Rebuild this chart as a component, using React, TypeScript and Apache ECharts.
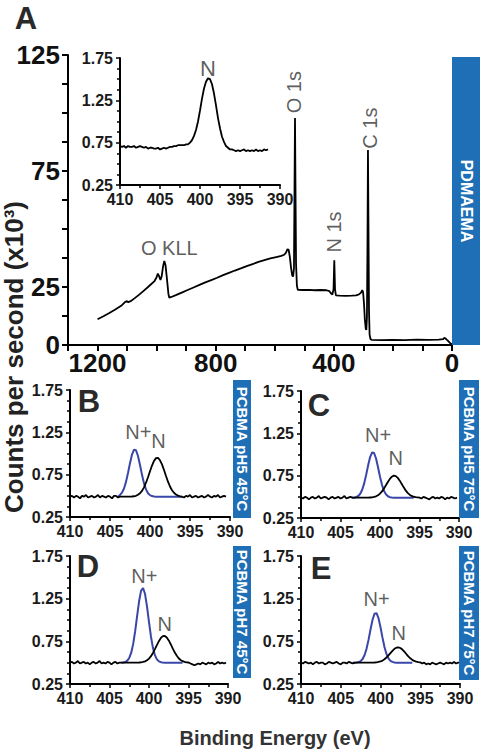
import React, { useEffect, useRef } from "react";
import * as echarts from "echarts";

const SANS = "'Liberation Sans', Arial, Helvetica, sans-serif";
const NARROW = "'Liberation Sans Narrow', 'Arial Narrow', 'Liberation Sans', Arial, sans-serif";

// ---------------- DATA ----------------
// Panel A survey spectrum: [binding energy (eV), counts (x10^3)]
const surveySpectrum: [number, number][] = [
  [1200, 11.1], [1180, 12.4], [1160, 13.8], [1140, 15.3], [1120, 16.9], [1108, 18.4],
  [1102, 18.9], [1096, 18.5], [1088, 18.9], [1075, 20.1], [1060, 21.6], [1045, 23.2],
  [1030, 24.9], [1018, 26.3], [1008, 27.4], [1000, 29.2], [996, 30.8], [992, 29.8],
  [987, 28.0], [983, 29.5], [978, 34.0], [974, 36.2], [970, 34.5], [965, 28.5],
  [960, 22.0], [957, 20.4], [950, 20.7], [935, 21.5], [915, 22.6], [895, 23.7],
  [875, 24.8], [855, 25.9], [835, 27.0], [815, 28.0], [795, 29.0], [775, 30.1],
  [755, 31.1], [735, 32.1], [715, 33.0], [695, 34.0], [675, 34.9], [655, 35.8],
  [635, 36.6], [615, 37.3], [595, 37.9], [578, 38.4], [568, 38.9], [562, 39.8],
  [557, 41.3], [553, 41.0], [549, 38.0], [545, 33.5], [541, 30.0], [538, 29.5],
  [535, 33.0], [533, 70], [531.5, 97.8], [530, 70], [528, 35], [525, 25.5],
  [522, 23.8], [505, 23.7], [485, 23.8], [465, 23.6], [445, 23.7], [425, 23.6],
  [415, 23.2], [410, 22.3], [405, 21.8], [401, 24.0], [398.5, 36.5], [396, 24],
  [393, 21.4], [380, 21.3], [360, 21.2], [340, 21.3], [325, 21.4], [315, 21.8],
  [308, 22.6], [304, 23.6], [301, 22.8], [298, 18], [295, 11], [292, 7.0],
  [290, 6.5], [288, 12], [286, 45], [284.5, 84], [283, 55], [281, 15],
  [279, 4.5], [276, 2.6], [272, 2.2], [240, 2.1], [200, 2.2], [160, 2.1],
  [120, 2.3], [80, 2.2], [45, 2.3], [30, 2.5], [26, 3.1], [22, 2.8],
  [18, 2.3], [12, 1.6], [6, 0.8], [0, 0.3],
];
const surveyXLabels = [1200, 800, 400, 0];
const surveyYLabels = [0, 25, 75, 125];

// High-resolution N 1s spectra, sampled every 0.25 eV from a start energy
const EV_STEP = 0.25;

const insetStart = 410;
const insetCounts = [
  0.71, 0.70, 0.71, 0.69,
  0.71, 0.70, 0.70, 0.71,
  0.69, 0.70, 0.71, 0.70,
  0.69, 0.70, 0.68, 0.69,
  0.69, 0.68, 0.68, 0.69,
  0.67, 0.68, 0.69, 0.68,
  0.69, 0.70, 0.70, 0.71,
  0.71, 0.72, 0.72, 0.72,
  0.72, 0.73, 0.73, 0.75,
  0.78, 0.83, 0.90, 1.00,
  1.13, 1.27, 1.39, 1.47,
  1.51, 1.50, 1.44, 1.33,
  1.19, 1.04, 0.92, 0.82,
  0.76, 0.71, 0.69, 0.67,
  0.67, 0.66, 0.65, 0.66,
  0.65, 0.66, 0.67, 0.65,
  0.66, 0.65, 0.66, 0.65,
  0.67, 0.65, 0.66, 0.65,
  0.67, 0.66, 0.67,
];

const bNStart = 410;
const bN = [
  0.49, 0.50, 0.48, 0.50,
  0.49, 0.47, 0.50, 0.49,
  0.51, 0.48, 0.49, 0.50,
  0.48, 0.49, 0.51, 0.48,
  0.50, 0.49, 0.48, 0.50,
  0.49, 0.47, 0.50, 0.50,
  0.48, 0.49, 0.49, 0.49,
  0.49, 0.49, 0.49, 0.492,
  0.495, 0.50, 0.513, 0.531,
  0.559, 0.60, 0.655, 0.72,
  0.79, 0.858, 0.913, 0.945,
  0.948, 0.92, 0.871, 0.805,
  0.734, 0.667, 0.61, 0.566,
  0.536, 0.515, 0.503, 0.495,
  0.49, 0.48, 0.50, 0.49,
  0.51, 0.48, 0.49, 0.50,
  0.48, 0.49, 0.50, 0.48,
  0.49, 0.51, 0.49, 0.48,
  0.50, 0.49, 0.51, 0.48,
  0.49, 0.50, 0.49,
];
const bNplusStart = 404;
const bNplus = [
  0.49, 0.511, 0.538, 0.587,
  0.665, 0.77, 0.886, 0.988,
  1.045, 1.038, 0.97, 0.864,
  0.748, 0.647, 0.576, 0.531,
  0.508, 0.497, 0.492, 0.49,
  0.49, 0.49, 0.49, 0.49,
  0.49, 0.49, 0.49, 0.49,
  0.49, 0.49, 0.49, 0.49,
  0.49,
];

const cNStart = 410;
const cN = [
  0.49, 0.48, 0.50, 0.49,
  0.47, 0.49, 0.50, 0.48,
  0.49, 0.51, 0.48, 0.49,
  0.50, 0.49, 0.47, 0.49,
  0.50, 0.48, 0.49, 0.50,
  0.48, 0.49, 0.51, 0.48,
  0.49, 0.50, 0.49, 0.49,
  0.49, 0.49, 0.49, 0.49,
  0.49, 0.49, 0.49, 0.492,
  0.494, 0.499, 0.506, 0.519,
  0.538, 0.564, 0.597, 0.636,
  0.676, 0.712, 0.738, 0.75,
  0.745, 0.724, 0.691, 0.652,
  0.612, 0.576, 0.547, 0.525,
  0.511, 0.501, 0.496, 0.493,
  0.49, 0.48, 0.50, 0.49,
  0.48, 0.47, 0.49, 0.50,
  0.48, 0.49, 0.48, 0.50,
  0.49, 0.47, 0.49, 0.48,
  0.50, 0.49, 0.48, 0.49,
];
const cNplusStart = 403.5;
const cNplus = [
  0.49, 0.49,
  0.498, 0.51, 0.536, 0.584,
  0.659, 0.76, 0.872, 0.97,
  1.025, 1.018, 0.953, 0.85,
  0.738, 0.642, 0.573, 0.53,
  0.507, 0.496, 0.492, 0.49,
  0.49, 0.49, 0.49, 0.49,
  0.49, 0.49, 0.49, 0.49,
  0.49, 0.49,
];

const dNStart = 410;
const dN = [
  0.50, 0.51, 0.49, 0.50,
  0.52, 0.49, 0.50, 0.51,
  0.49, 0.50, 0.48, 0.50,
  0.51, 0.49, 0.50, 0.52,
  0.49, 0.50, 0.49, 0.51,
  0.50, 0.48, 0.50, 0.51,
  0.49, 0.50, 0.50, 0.50,
  0.50, 0.50, 0.50, 0.50,
  0.50, 0.50, 0.501, 0.502,
  0.504, 0.508, 0.515, 0.528,
  0.548, 0.576, 0.613, 0.658,
  0.706, 0.752, 0.79, 0.811,
  0.813, 0.795, 0.761, 0.716,
  0.667, 0.621, 0.583, 0.552,
  0.531, 0.517, 0.509, 0.504,
  0.502, 0.49, 0.48, 0.47,
  0.48, 0.49, 0.48, 0.50,
  0.49, 0.48, 0.50, 0.49,
  0.50, 0.48, 0.49, 0.51,
  0.49, 0.50, 0.49, 0.50,
];
const dNplusStart = 403.5;
const dNplus = [
  0.50, 0.503,
  0.508, 0.523, 0.555, 0.617,
  0.72, 0.869, 1.048, 1.222,
  1.344, 1.375, 1.304, 1.156,
  0.974, 0.804, 0.674, 0.588,
  0.539, 0.516, 0.506, 0.502,
  0.50, 0.50, 0.50, 0.50,
  0.50, 0.50, 0.50, 0.50,
  0.50, 0.50,
];

const eNStart = 410;
const eN = [
  0.50, 0.49, 0.51, 0.50,
  0.49, 0.50, 0.48, 0.50,
  0.51, 0.49, 0.50, 0.50,
  0.48, 0.49, 0.51, 0.50,
  0.49, 0.50, 0.51, 0.49,
  0.48, 0.50, 0.50, 0.49,
  0.51, 0.50, 0.49, 0.50,
  0.50, 0.50, 0.50, 0.50,
  0.50, 0.50, 0.50, 0.50,
  0.501, 0.502, 0.504, 0.508,
  0.514, 0.524, 0.54, 0.56,
  0.585, 0.612, 0.639, 0.662,
  0.676, 0.68, 0.672, 0.654,
  0.629, 0.601, 0.574, 0.551,
  0.533, 0.52, 0.511, 0.506,
  0.503, 0.49, 0.50, 0.48,
  0.49, 0.48, 0.50, 0.49,
  0.48, 0.49, 0.50, 0.49,
  0.48, 0.50, 0.49, 0.50,
  0.49, 0.51, 0.49, 0.50,
  0.50,
];
const eNplusStart = 403.5;
const eNplus = [
  0.50, 0.50,
  0.502, 0.507, 0.518, 0.543,
  0.59, 0.665, 0.77, 0.891,
  1.003, 1.074, 1.08, 1.021,
  0.915, 0.793, 0.683, 0.602,
  0.55, 0.522, 0.509, 0.503,
  0.50, 0.50, 0.50, 0.50,
  0.50, 0.50, 0.50, 0.50,
  0.50,
];

const panelSamples = ["PCBMA pH5 45°C", "PCBMA pH5 75°C", "PCBMA pH7 45°C", "PCBMA pH7 75°C"];
const surveySample = "PDMAEMA";

// ---------------- LAYOUT / STYLE ----------------
const BLUE_LINE = "#3a46a8";
const BOX_BLUE = "#1f6fb6";
const TEXT_DARK = "#2a2a2a";

const grids = [
  { left: 68, top: 55, width: 384, height: 290 }, // A
  { left: 120, top: 58, width: 160, height: 127 }, // inset
  { left: 70, top: 390, width: 160, height: 127 }, // B
  { left: 301, top: 391, width: 158, height: 127 }, // C
  { left: 70, top: 556, width: 158, height: 128 }, // D
  { left: 301, top: 556, width: 159, height: 128 }, // E
];

// annotation anchors in data coordinates
const surveyAnnotations = [
  { text: "O KLL", x: 957, y: 41.8, rot: 0 },
  { text: "O 1s", x: 536, y: 109, rot: 90 },
  { text: "N 1s", x: 398, y: 48.7, rot: 90 },
  { text: "C 1s", x: 279, y: 93.5, rot: 90 },
];
const insetAnnotations = [{ text: "N", x: 399, y: 1.63, rot: 0 }];
const panelAnnotations = [
  [{ text: "N+", x: 401.45, y: 1.25, rot: 0 }, { text: "N", x: 398.95, y: 1.15, rot: 0 }],
  [{ text: "N+", x: 400.25, y: 1.23, rot: 0 }, { text: "N", x: 398.0, y: 0.96, rot: 0 }],
  [{ text: "N+", x: 400.6, y: 1.52, rot: 0 }, { text: "N", x: 398.0, y: 0.95, rot: 0 }],
  [{ text: "N+", x: 400.5, y: 1.25, rot: 0 }, { text: "N", x: 397.7, y: 0.85, rot: 0 }],
];

function onGrid(start: number, ys: number[]): [number, number][] {
  return ys.map((y, i) => [+(start - i * EV_STEP).toFixed(2), y]);
}

const axisLine = (w: number) => ({ show: true, onZero: false, lineStyle: { color: "#000", width: w } });

function smallX(gi: number, fontSize = 16) {
  return {
    type: "value", gridIndex: gi, min: 390, max: 410, interval: 5, inverse: true,
    axisLine: axisLine(2),
    axisTick: { show: true, length: 4, lineStyle: { color: "#000", width: 1.5 } },
    minorTick: { show: true, splitNumber: 2, length: 3, lineStyle: { color: "#000", width: 1.5 } },
    axisLabel: { show: true, margin: 6, fontFamily: NARROW, fontWeight: "bold", fontSize, color: "#1a1a1a", showMinLabel: true, showMaxLabel: true },
    splitLine: { show: false }, minorSplitLine: { show: false },
  };
}
function smallY(gi: number, fontSize = 16) {
  return {
    type: "value", gridIndex: gi, min: 0.25, max: 1.75, interval: 0.5,
    axisLine: axisLine(2),
    axisTick: { show: true, length: 4, lineStyle: { color: "#000", width: 1.5 } },
    minorTick: { show: true, splitNumber: 4, length: 3, lineStyle: { color: "#000", width: 1.5 } },
    axisLabel: { show: true, margin: 7, fontFamily: NARROW, fontWeight: "bold", fontSize, color: "#1a1a1a", formatter: (v: number) => v.toFixed(2), showMinLabel: true, showMaxLabel: true },
    splitLine: { show: false }, minorSplitLine: { show: false },
  };
}

function lineSeries(gi: number, data: [number, number][], color: string, width: number) {
  return {
    type: "line", xAxisIndex: gi, yAxisIndex: gi, data, showSymbol: false, symbol: "none",
    lineStyle: { color, width }, silent: true, z: 3,
  };
}

function labelSeries(gi: number, items: { text: string; x: number; y: number; rot: number }[], fontSize: number, family: string) {
  return {
    type: "scatter", xAxisIndex: gi, yAxisIndex: gi, symbolSize: 1, silent: true, z: 5,
    itemStyle: { color: "rgba(0,0,0,0)" },
    data: items.map((it) => ({
      value: [it.x, it.y],
      label: { show: true, position: "inside", formatter: it.text, rotate: it.rot, fontSize, fontFamily: family, color: "#333" },
    })),
  };
}

function boxGraphic(x: number, y: number, w: number, h: number, text: string, size: number) {
  return [
    { type: "rect", shape: { x, y, width: w, height: h }, style: { fill: BOX_BLUE }, z: 10 },
    {
      type: "text", x: x + w / 2, y: y + h / 2, rotation: -Math.PI / 2, z: 11,
      style: { text, fill: "#fff", fontSize: size, fontWeight: "bold", fontFamily: SANS, align: "center", verticalAlign: "middle", textAlign: "center", textVerticalAlign: "middle" },
    },
  ];
}

function textGraphic(x: number, y: number, text: string, size: number, weight: string, color: string, rotation = 0) {
  return {
    type: "text", x, y, rotation, z: 12,
    style: { text, fill: color, fontSize: size, fontWeight: weight, fontFamily: SANS, align: "center", verticalAlign: "middle", textAlign: "center", textVerticalAlign: "middle" },
  };
}

export default function App() {
  const ref = useRef<HTMLDivElement>(null);

  useEffect(() => {
    if (!ref.current) return;
    const chart = echarts.init(ref.current, undefined, { renderer: "svg" });

    const option: any = {
      animation: false,
      backgroundColor: "#fff",
      grid: grids.map((g) => ({ ...g, containLabel: false })),
      xAxis: [
        {
          type: "value", gridIndex: 0, min: 0, max: 1300, interval: 100, inverse: true,
          axisLine: axisLine(2),
          axisTick: { show: true, length: 6, lineStyle: { color: "#000", width: 2 } },
          axisLabel: {
            show: true, margin: 5, fontFamily: SANS, fontWeight: "bold", fontSize: 26, color: "#111",
            formatter: (v: number) => (surveyXLabels.includes(v) ? String(v) : ""), showMinLabel: true, showMaxLabel: true,
          },
          splitLine: { show: false },
        },
        smallX(1), smallX(2), smallX(3), smallX(4), smallX(5),
      ],
      yAxis: [
        {
          type: "value", gridIndex: 0, min: 0, max: 125, interval: 12.5,
          axisLine: axisLine(2),
          axisTick: { show: true, length: 6, lineStyle: { color: "#000", width: 2 } },
          axisLabel: {
            show: true, margin: 8, fontFamily: SANS, fontWeight: "bold", fontSize: 26, color: "#111",
            formatter: (v: number) => (surveyYLabels.includes(v) ? String(v) : ""), showMinLabel: true, showMaxLabel: true,
          },
          splitLine: { show: false },
        },
        smallY(1), smallY(2), smallY(3), smallY(4), smallY(5),
      ],
      series: [
        lineSeries(0, surveySpectrum, "#000", 1.8),
        lineSeries(1, onGrid(insetStart, insetCounts), "#000", 1.8),
        lineSeries(2, onGrid(bNplusStart, bNplus), BLUE_LINE, 2),
        lineSeries(2, onGrid(bNStart, bN), "#000", 1.8),
        lineSeries(3, onGrid(cNplusStart, cNplus), BLUE_LINE, 2),
        lineSeries(3, onGrid(cNStart, cN), "#000", 1.8),
        lineSeries(4, onGrid(dNplusStart, dNplus), BLUE_LINE, 2),
        lineSeries(4, onGrid(dNStart, dN), "#000", 1.8),
        lineSeries(5, onGrid(eNplusStart, eNplus), BLUE_LINE, 2),
        lineSeries(5, onGrid(eNStart, eN), "#000", 1.8),
        labelSeries(0, surveyAnnotations, 20, SANS),
        labelSeries(1, insetAnnotations, 22, SANS),
        ...panelAnnotations.map((items, i) => labelSeries(2 + i, items, 20, NARROW)),
      ],
      graphic: [
        ...boxGraphic(452, 57, 28, 288, surveySample, 16),
        ...boxGraphic(233, 380, 18, 138, panelSamples[0], 15),
        ...boxGraphic(459, 380, 20, 138, panelSamples[1], 15),
        ...boxGraphic(233, 546, 18, 132, panelSamples[2], 15),
        ...boxGraphic(459, 546, 20, 134, panelSamples[3], 15),
        textGraphic(26, 18, "A", 31, "bold", TEXT_DARK),
        textGraphic(89, 401, "B", 31, "bold", TEXT_DARK),
        textGraphic(319, 405, "C", 31, "bold", TEXT_DARK),
        textGraphic(88, 566, "D", 31, "bold", TEXT_DARK),
        textGraphic(321, 568, "E", 31, "bold", TEXT_DARK),
        textGraphic(14, 357, "Counts per second (x10³)", 26, "bold", "#222", Math.PI / 2),
        textGraphic(275, 738, "Binding Energy (eV)", 20, "bold", "#333"),
      ],
    };

    chart.setOption(option);
    return () => chart.dispose();
  }, []);

  return <div ref={ref} style={{ position: "absolute", left: 0, top: 0, width: 481, height: 750 }} />;
}
